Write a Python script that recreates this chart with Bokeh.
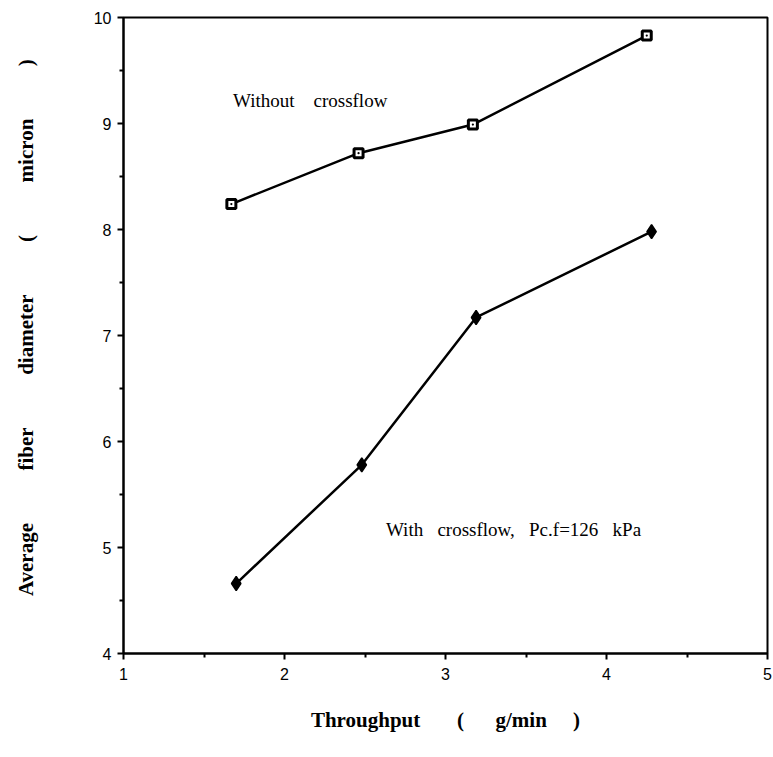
from bokeh.plotting import figure
from bokeh.models import Range1d, FixedTicker, ColumnDataSource
from bokeh.core.properties import value
from bokeh.embed import file_html
from bokeh.resources import INLINE

# Data
throughput_without = [1.67, 2.46, 3.17, 4.25]
diameter_without = [8.24, 8.72, 8.99, 9.83]
throughput_with = [1.70, 2.48, 3.19, 4.28]
diameter_with = [4.66, 5.78, 7.17, 7.98]

x_ticks = [1, 2, 3, 4, 5]
y_ticks = [4, 5, 6, 7, 8, 9, 10]
x_minor = [1.5, 2.5, 3.5, 4.5]
y_minor = [4.5, 5.5, 6.5, 7.5, 8.5, 9.5]

NB = "\u00a0"


def spaced(words, n):
    return (NB * n).join(words)


label_without = spaced(["Without", "crossflow"], 4)
label_with = spaced(["With", "crossflow,", "Pc.f=126", "kPa"], 3)
label_without_pos = (1.68, 9.22)
label_with_pos = (2.63, 5.17)

x_title = ("Throughput" + NB * 7 + "(" + NB * 6 + "g/min" + NB * 5 + ")")
y_title = NB * 3 + spaced(["Average", "fiber", "diameter", "(", "micron", ")"], 10)

p = figure(width=773, height=757, output_backend="svg", toolbar_location=None,
           x_range=Range1d(1, 5), y_range=Range1d(4, 10),
           min_border_left=123, min_border_right=6, min_border_top=17,
           min_border_bottom=104)
p.outline_line_color = "black"
p.outline_line_width = 2
p.grid.visible = False
p.background_fill_color = "white"
p.border_fill_color = "white"

for ax in (p.xaxis[0], p.yaxis[0]):
    ax.axis_line_width = 2
    ax.axis_line_color = "black"
    ax.major_tick_line_width = 2
    ax.minor_tick_line_width = 2
    ax.major_tick_out = 6
    ax.major_tick_in = 0
    ax.minor_tick_out = 4
    ax.minor_tick_in = 0
    ax.major_label_text_font = "Liberation Sans"
    ax.major_label_text_font_size = "16px"
    ax.major_label_text_color = "black"
    ax.axis_label_text_font = "Liberation Serif"
    ax.axis_label_text_font_style = "bold"
    ax.axis_label_text_font_size = "21px"
    ax.axis_label_text_color = "black"

p.xaxis.ticker = FixedTicker(ticks=x_ticks, minor_ticks=x_minor)
p.yaxis.ticker = FixedTicker(ticks=y_ticks, minor_ticks=y_minor)
p.xaxis.major_label_standoff = 8
p.yaxis.major_label_standoff = 6
p.xaxis.axis_label = x_title
p.yaxis.axis_label = y_title
p.xaxis.axis_label_standoff = 25
p.yaxis.axis_label_standoff = 53

src_wo = ColumnDataSource(dict(x=throughput_without, y=diameter_without))
src_w = ColumnDataSource(dict(x=throughput_with, y=diameter_with))

p.line("x", "y", source=src_wo, line_color="black", line_width=2.5)
p.scatter("x", "y", source=src_wo, marker="square_dot", size=9,
          fill_color="white", line_color="black", line_width=3)

p.line("x", "y", source=src_w, line_color="black", line_width=2.5)
p.scatter("x", "y", source=src_w, marker="diamond", size=14,
          fill_color="black", line_color="black", line_width=1.5)

p.text(x=[label_without_pos[0]], y=[label_without_pos[1]], text=[label_without],
       text_font=value("Liberation Serif"), text_font_size="19px",
       text_color="black", text_align="left", text_baseline="middle")
p.text(x=[label_with_pos[0]], y=[label_with_pos[1]], text=[label_with],
       text_font=value("Liberation Serif"), text_font_size="19px",
       text_color="black", text_align="left", text_baseline="middle")

open("out.html", "w").write(file_html(p, INLINE))
